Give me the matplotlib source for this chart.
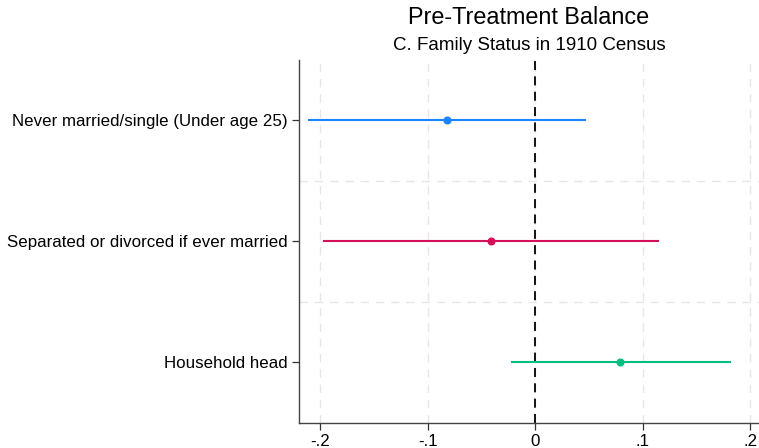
import matplotlib
matplotlib.use('Agg')
import matplotlib.pyplot as plt

# coefficient estimates and 95% CIs, top row first
labels = ['Never married/single (Under age 25)',
          'Separated or divorced if ever married',
          'Household head']
coef = [-0.082, -0.0415, 0.079]
ci_lo = [-0.210, -0.196, -0.022]
ci_hi = [0.046, 0.114, 0.181]
colors = ['#1a85ff', '#d41159', '#00bf7f']
xticks = [-0.2, -0.1, 0, 0.1, 0.2]
xticklabels = ['-.2', '-.1', '0', '.1', '.2']

plt.rcParams['font.family'] = ['Liberation Sans', 'DejaVu Sans']

fig = plt.figure(figsize=(7.59, 4.48), dpi=100)
ax = fig.add_axes([0.3935, 0.0565, 0.6065, 0.8095])

ypos = list(range(1, len(labels) + 1))

# grid
for x in xticks:
    ax.axvline(x, color='#e6e6e6', lw=1.0, ls=(0, (6, 5)), zorder=0)
for y in [1.5, 2.5]:
    ax.axhline(y, color='#e6e6e6', lw=1.0, ls=(0, (6, 5)), zorder=0)

ax.axvline(0, color='black', lw=1.3, ls=(0, (5, 3.5)), zorder=1)

for i in range(len(labels)):
    ax.plot([ci_lo[i], ci_hi[i]], [ypos[i], ypos[i]], color=colors[i], lw=1.5, zorder=2)
    ax.plot(coef[i], ypos[i], 'o', color=colors[i], ms=4.8, zorder=3)

ax.set_xlim(-0.220, 0.2081)
ax.set_ylim(3.5, 0.5)
ax.set_yticks(ypos)
ax.set_yticklabels(labels, fontsize=12.2)
ax.set_xticks(xticks)
ax.set_xticklabels(xticklabels, fontsize=12.2)
ax.tick_params(length=5, width=0.9, color='#333333', pad=3)

for s in ['top', 'right']:
    ax.spines[s].set_visible(False)
for s in ['left', 'bottom']:
    ax.spines[s].set_color('#444444')
    ax.spines[s].set_linewidth(1.0)

xc = 0.3935 + 0.6065 / 2
fig.text(xc, 1 - 18 / 448, 'Pre-Treatment Balance', ha='center', va='center', fontsize=16.8)
fig.text(xc, 1 - 46 / 448, 'C. Family Status in 1910 Census', ha='center', va='center', fontsize=13.5)

fig.savefig('out.png', dpi=100)
